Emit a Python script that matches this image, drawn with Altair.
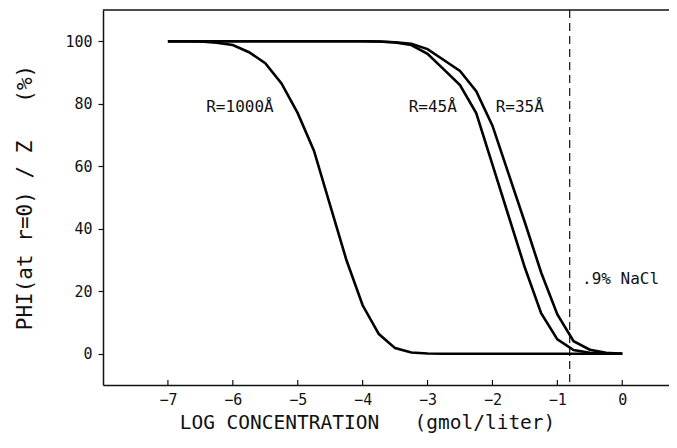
import altair as alt
import pandas as pd

log_conc = [-7.0, -6.75, -6.5, -6.25, -6.0, -5.75, -5.5, -5.25, -5.0, -4.75,
            -4.5, -4.25, -4.0, -3.75, -3.5, -3.25, -3.0, -2.75, -2.5, -2.25,
            -2.0, -1.75, -1.5, -1.25, -1.0, -0.75, -0.5, -0.25, 0.0]
phi_r1000 = [100, 100, 99.9, 99.5, 98.8, 96.5, 93, 86.5, 77, 65,
             47.5, 30, 15.5, 6.3, 1.8, 0.4, 0.1, 0, 0, 0,
             0, 0, 0, 0, 0, 0, 0, 0, 0]
phi_r45 = [100, 100, 100, 100, 100, 100, 100, 100, 100, 100,
           100, 100, 100, 99.9, 99.6, 98.8, 96, 91, 86, 77,
           60.5, 44, 27.5, 13, 4.6, 1.2, 0.3, 0.1, 0]
phi_r35 = [100, 100, 100, 100, 100, 100, 100, 100, 100, 100,
           100, 100, 100, 99.9, 99.7, 99.2, 97.5, 94, 90.5, 84,
           73, 57.5, 42, 26, 12.6, 4, 1.3, 0.3, 0]

series_names = ["R=1000Å", "R=45Å", "R=35Å"]
label_x = [-5.89, -2.92, -1.58]
label_y = [79, 79, 79]

nacl_log = -0.81
nacl_text = ".9% NaCl"
nacl_text_x = -0.62
nacl_text_y = 23.8

x_ticks = [-7, -6, -5, -4, -3, -2, -1, 0]
y_ticks = [0, 10, 20, 30, 40, 50, 60, 70, 80, 90, 100]
x_domain = [-8, 0.72]
y_domain = [-10, 110]

x_title = "LOG CONCENTRATION\u00a0\u00a0\u00a0(gmol/liter)"
y_title = "PHI(at r=0) / Z\u00a0\u00a0\u00a0(%)"

FONT = "DejaVu Sans Mono"
INK = "#111111"

rows = []
for name, vals in zip(series_names, [phi_r1000, phi_r45, phi_r35]):
    for xv, yv in zip(log_conc, vals):
        rows.append({"x": xv, "y": yv, "series": name})
lines_df = pd.DataFrame(rows)
labels_df = pd.DataFrame({"x": label_x, "y": label_y, "text": series_names})
ticks_df = pd.DataFrame({"x": x_ticks})

xs = alt.Scale(domain=x_domain, nice=False, zero=False)
ys = alt.Scale(domain=y_domain, nice=False, zero=False)

x_axis = alt.Axis(values=x_ticks, format="d", ticks=False, grid=False,
                  labelPadding=7, labelFontSize=15, labelFont=FONT, labelColor=INK,
                  domainColor=INK, domainWidth=1.5,
                  title=x_title, titleFont=FONT,
                  titleFontSize=19.5, titleFontWeight="normal", titleColor=INK,
                  titleX=264, titleY=43, titleAlign="center", titleBaseline="alphabetic")
y_axis = alt.Axis(values=y_ticks, format="d", grid=False,
                  labelExpr="datum.value % 20 == 0 ? datum.label : ''",
                  tickSize=5, tickWidth=1.2, tickColor=INK, labelPadding=6,
                  labelFontSize=15, labelFont=FONT, labelColor=INK,
                  domainColor=INK, domainWidth=1.5,
                  title=y_title, titleFont=FONT, titleFontSize=21,
                  titleFontWeight="normal", titleColor=INK, titleAngle=270,
                  titleX=-72, titleY=187, titleAlign="center", titleBaseline="alphabetic")

lines = alt.Chart(lines_df).mark_line(color="black", strokeWidth=2.6, interpolate="linear").encode(
    x=alt.X("x:Q", scale=xs, axis=x_axis),
    y=alt.Y("y:Q", scale=ys, axis=y_axis),
    detail="series:N",
)

labels = alt.Chart(labels_df).mark_text(font=FONT, fontSize=16, color=INK, align="center",
                                         baseline="middle").encode(
    x=alt.X("x:Q", scale=xs), y=alt.Y("y:Q", scale=ys), text="text:N")

nacl_rule = alt.Chart(pd.DataFrame({"x": [nacl_log]})).mark_rule(
    color=INK, strokeWidth=1.2, strokeDash=[8, 5]).encode(x=alt.X("x:Q", scale=xs))

nacl_label = alt.Chart(pd.DataFrame({"x": [nacl_text_x], "y": [nacl_text_y], "t": [nacl_text]})).mark_text(
    font=FONT, fontSize=16, color=INK, align="left", baseline="middle").encode(
    x=alt.X("x:Q", scale=xs), y=alt.Y("y:Q", scale=ys), text="t:N")

inner_ticks = alt.Chart(ticks_df).mark_rule(color=INK, strokeWidth=1.2).encode(
    x=alt.X("x:Q", scale=xs), y=alt.datum(-10), y2=alt.datum(-8.4))

top_line = alt.Chart(pd.DataFrame({"x": [x_domain[0]], "x2": [x_domain[1]], "y": [y_domain[1]]})).mark_rule(
    color=INK, strokeWidth=1.5).encode(
    x=alt.X("x:Q", scale=xs), x2="x2:Q", y=alt.Y("y:Q", scale=ys))

chart = alt.layer(top_line, inner_ticks, nacl_rule, lines, labels, nacl_label).properties(
    width=566, height=375,
    autosize=alt.AutoSizeParams(type="none"),
    padding={"left": 95, "top": 2, "right": 0, "bottom": 50},
    background="white",
).configure_view(stroke=None)

chart.save("out.html", embed_options={"renderer": "svg", "actions": False})
